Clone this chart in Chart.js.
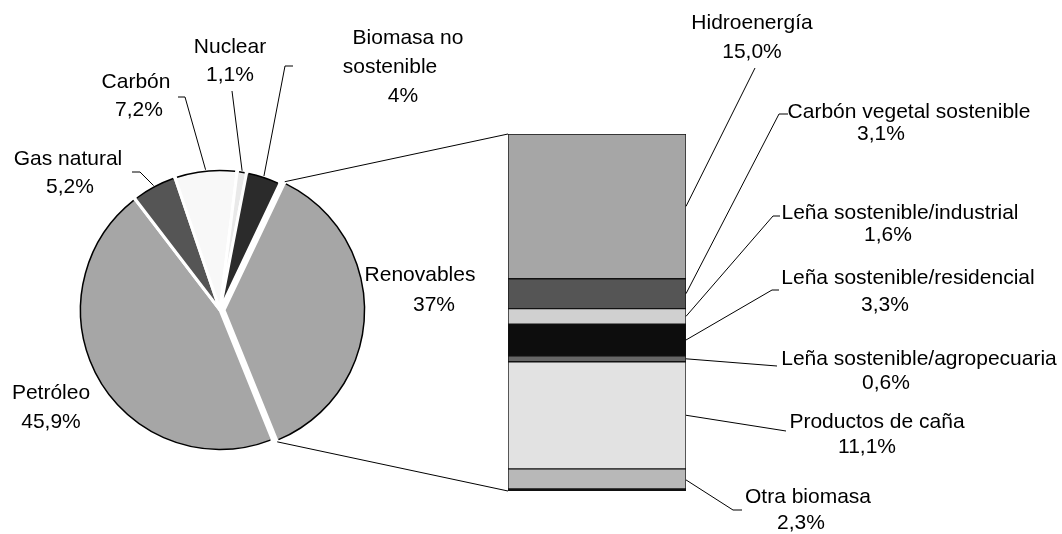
<!DOCTYPE html>
<html>
<head>
<meta charset="utf-8">
<script src="https://cdn.jsdelivr.net/npm/chart.js@4"></script>
<style>
  body { margin: 0; background: #fff; }
  #wrap { position: relative; width: 1062px; height: 534px; }
  canvas { position: absolute; left: 0; top: 0; }
</style>
</head>
<body>
<div id="wrap">
  <canvas id="pieChart" width="1062" height="534"></canvas>
  <canvas id="barChart" width="1062" height="534"></canvas>
</div>
<script>
// DATA
const pieCategories = ["Petróleo", "Gas natural", "Carbón", "Nuclear", "Biomasa no sostenible", "Renovables"];
const pieValues = [45.9, 5.2, 7.2, 1.1, 4, 37];
const pieDecimals = [1, 1, 1, 1, 0, 0];

const barCategories = [
    "Hidroenergía",
    "Carbón vegetal sostenible",
    "Leña sostenible/industrial",
    "Leña sostenible/residencial",
    "Leña sostenible/agropecuaria",
    "Productos de caña",
    "Otra biomasa"
];
const barValues = [15.0, 3.1, 1.6, 3.3, 0.6, 11.1, 2.3];

// STYLE
const pieColors = ["#a6a6a6", "#555555", "#f8f8f8", "#e9e9e9", "#2b2b2b", "#a6a6a6"];
const barColors = ["#a6a6a6", "#555555", "#d0d0d0", "#0d0d0d", "#666666", "#e2e2e2", "#b8b8b8"];
const FONT = "21px 'Liberation Sans', Arial, sans-serif";

// label layout: one [x, y] per text line (centre)
const pieLabelPos = [
    [[51, 393], [51, 422]],
    [[68, 159], [70, 187]],
    [[136, 82], [139, 110]],
    [[230, 47], [230, 75]],
    [[408, 38], [390, 67], [403, 96]],
    [[420, 275], [434, 305]]
];
const pieLeaders = [null, [[132, 172], [140, 172]], [[178, 97], [185, 97]], [[232, 91]], [[293, 66], [285, 66]], null];

const barLabelPos = [
    [[752, 23], [752, 52]],
    [[909, 112], [881, 134]],
    [[900, 213], [888, 235]],
    [[908, 278], [885, 305]],
    [[919, 359], [886, 383]],
    [[877, 422], [867, 447]],
    [[808, 497], [801, 523]]
];
const barLeaders = [
    [[755, 68]],
    [[788, 114], [779, 114]],
    [[780, 216], [773, 216]],
    [[779, 290], [772, 290]],
    [[777, 366]],
    [[786, 431]],
    [[742, 510], [733, 510]]
];

function pct(v, dec) {
    return v.toFixed(dec).replace(".", ",") + "%";
}

function nameLines(name, count) {
    if (count < 3) return [name];
    const i = name.lastIndexOf(" ");
    return [name.slice(0, i), name.slice(i + 1)];
}

// geometry of an arc (including Chart.js offset shift)
function arcGeom(arc) {
    const off = (arc.options.offset || 0) / 4;
    const mid = (arc.startAngle + arc.endAngle) / 2;
    const fix = 1 - Math.sin(Math.min(Math.PI, arc.circumference || 0));
    return {
        cx: arc.x + Math.cos(mid) * off,
        cy: arc.y + Math.sin(mid) * off,
        r: arc.outerRadius + off * fix,
        mid: mid
    };
}

// PIE OUTLINE (black outer edge only)
const pieOutline = {
    id: "pieOutline",
    afterDatasetsDraw(chart) {
        const ctx = chart.ctx;
        ctx.save();
        ctx.strokeStyle = "#000";
        ctx.lineWidth = 1.5;
        chart.getDatasetMeta(0).data.forEach(arc => {
            const g = arcGeom(arc);
            const r = g.r - 1.5;
            const trim = 2 / r;
            ctx.beginPath();
            ctx.arc(g.cx, g.cy, r, arc.startAngle + trim, arc.endAngle - trim);
            ctx.stroke();
        });
        ctx.restore();
    }
};

const pieChart = new Chart(document.getElementById("pieChart"), {
    type: "pie",
    data: {
        labels: pieCategories,
        datasets: [{
            data: pieValues,
            backgroundColor: pieColors,
            borderColor: "#ffffff",
            borderWidth: 3,
            offset: [0, 0, 0, 0, 0, 16],
            radius: 141
        }]
    },
    options: {
        responsive: false,
        animation: false,
        events: [],
        rotation: 158,
        layout: { padding: { left: 70, right: 692, top: 160, bottom: 74 } },
        plugins: { legend: { display: false }, tooltip: { enabled: false } }
    },
    plugins: [pieOutline]
});

function polyline(ctx, pts) {
    ctx.beginPath();
    ctx.moveTo(pts[0][0], pts[0][1]);
    for (let i = 1; i < pts.length; i++) ctx.lineTo(pts[i][0], pts[i][1]);
    ctx.stroke();
}

// LABELS, LEADERS AND CONNECTORS
const annotations = {
    id: "annotations",
    afterDraw(chart) {
        const ctx = chart.ctx;
        const arcs = pieChart.getDatasetMeta(0).data;
        ctx.save();
        ctx.strokeStyle = "#000";
        ctx.lineWidth = 1;

        // pie to bar connectors
        const ren = arcs[arcs.length - 1];
        const g = arcGeom(ren);
        const topBar = chart.getDatasetMeta(0).data[0];
        const botBar = chart.getDatasetMeta(barValues.length - 1).data[0];
        const barLeft = topBar.x - topBar.width / 2;
        polyline(ctx, [
            [g.cx + Math.cos(ren.startAngle) * g.r, g.cy + Math.sin(ren.startAngle) * g.r],
            [barLeft, Math.min(topBar.y, topBar.base)]
        ]);
        polyline(ctx, [
            [g.cx + Math.cos(ren.endAngle) * g.r, g.cy + Math.sin(ren.endAngle) * g.r],
            [barLeft, Math.max(botBar.y, botBar.base)]
        ]);

        // pie leaders
        arcs.forEach((arc, i) => {
            if (!pieLeaders[i]) return;
            const a = arcGeom(arc);
            const pts = pieLeaders[i].concat([[a.cx + Math.cos(a.mid) * a.r, a.cy + Math.sin(a.mid) * a.r]]);
            polyline(ctx, pts);
        });

        // bar leaders
        barValues.forEach((v, i) => {
            const el = chart.getDatasetMeta(i).data[0];
            const pts = barLeaders[i].concat([[el.x + el.width / 2, (el.y + el.base) / 2]]);
            polyline(ctx, pts);
        });

        // texts
        ctx.fillStyle = "#000";
        ctx.font = FONT;
        ctx.textAlign = "center";
        ctx.textBaseline = "middle";
        pieCategories.forEach((name, i) => {
            const pos = pieLabelPos[i];
            const lines = nameLines(name, pos.length).concat([pct(pieValues[i], pieDecimals[i])]);
            lines.forEach((t, j) => ctx.fillText(t, pos[j][0], pos[j][1]));
        });
        barCategories.forEach((name, i) => {
            const pos = barLabelPos[i];
            ctx.fillText(name, pos[0][0], pos[0][1]);
            ctx.fillText(pct(barValues[i], 1), pos[1][0], pos[1][1]);
        });
        ctx.restore();
    }
};

const lastBar = barCategories.length - 1;
const barChart = new Chart(document.getElementById("barChart"), {
    type: "bar",
    data: {
        labels: ["Renovables"],
        datasets: barCategories.map((name, i) => ({
            label: name,
            data: [barValues[i]],
            backgroundColor: barColors[i],
            borderColor: "#111111",
            borderWidth: i === lastBar ? { top: 1, left: 1, right: 1, bottom: 3 } : 1,
            borderSkipped: false,
            barPercentage: 1,
            categoryPercentage: 1
        }))
    },
    options: {
        responsive: false,
        animation: false,
        events: [],
        layout: { padding: { left: 508, right: 376, top: 134, bottom: 43 } },
        scales: {
            x: { display: false, stacked: true },
            y: { display: false, stacked: true, reverse: true, min: 0, max: 37 }
        },
        plugins: { legend: { display: false }, tooltip: { enabled: false } }
    },
    plugins: [annotations]
});
</script>
</body>
</html>
